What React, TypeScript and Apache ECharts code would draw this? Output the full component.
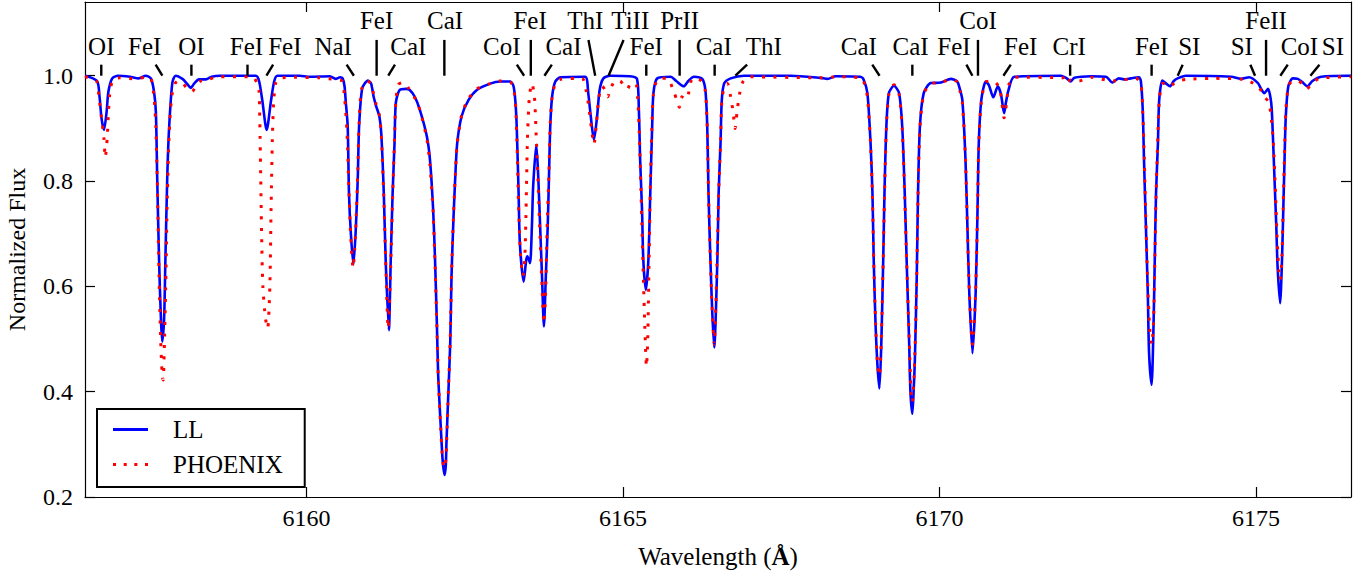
import React, { useEffect, useRef } from "react";
import * as echarts from "echarts";

const FONT = '"Liberation Serif", "DejaVu Serif", serif';

// LL model spectrum (wavelength in Å, normalized flux)
const llWave = [
  6156.50, 6156.69, 6156.73, 6156.76, 6156.80, 6156.84, 6156.87, 6156.93, 6157.02, 6157.21,
  6157.35, 6157.46, 6157.54, 6157.59, 6157.62, 6157.64, 6157.67, 6157.70, 6157.72, 6157.75,
  6157.77, 6157.80, 6157.83, 6157.88, 6157.93, 6158.04, 6158.11, 6158.17, 6158.23, 6158.30,
  6158.41, 6158.50, 6158.63, 6159.20, 6159.25, 6159.30, 6159.37, 6159.44, 6159.49, 6159.54,
  6159.89, 6160.05, 6160.37, 6160.46, 6160.53, 6160.57, 6160.60, 6160.62, 6160.65, 6160.67,
  6160.70, 6160.74, 6160.78, 6160.81, 6160.83, 6160.88, 6160.97, 6161.02, 6161.06, 6161.10,
  6161.15, 6161.18, 6161.22, 6161.25, 6161.30, 6161.33, 6161.36, 6161.39, 6161.41, 6161.47,
  6161.57, 6161.63, 6161.71, 6161.79, 6161.90, 6161.95, 6162.00, 6162.03, 6162.06, 6162.08,
  6162.12, 6162.15, 6162.18, 6162.20, 6162.21, 6162.24, 6162.27, 6162.29, 6162.32, 6162.35,
  6162.38, 6162.45, 6162.56, 6162.69, 6162.90, 6163.06, 6163.22, 6163.27, 6163.30, 6163.32,
  6163.35, 6163.37, 6163.43, 6163.47, 6163.49, 6163.53, 6163.56, 6163.58, 6163.63, 6163.66,
  6163.69, 6163.72, 6163.75, 6163.78, 6163.81, 6163.83, 6163.85, 6163.88, 6163.93, 6164.01,
  6164.40, 6164.45, 6164.49, 6164.54, 6164.59, 6164.63, 6164.69, 6164.80, 6165.11, 6165.22,
  6165.25, 6165.27, 6165.30, 6165.32, 6165.36, 6165.40, 6165.43, 6165.46, 6165.48, 6165.54,
  6165.75, 6165.84, 6165.96, 6166.03, 6166.12, 6166.25, 6166.30, 6166.33, 6166.35, 6166.38,
  6166.41, 6166.44, 6166.49, 6166.51, 6166.54, 6166.56, 6166.60, 6166.70, 6166.91, 6167.65,
  6168.12, 6168.23, 6168.36, 6168.75, 6168.80, 6168.86, 6168.91, 6168.94, 6168.96, 6168.99,
  6169.02, 6169.05, 6169.08, 6169.11, 6169.13, 6169.16, 6169.20, 6169.28, 6169.36, 6169.41,
  6169.45, 6169.48, 6169.52, 6169.54, 6169.57, 6169.59, 6169.61, 6169.64, 6169.66, 6169.69,
  6169.75, 6169.86, 6170.02, 6170.18, 6170.28, 6170.32, 6170.36, 6170.41, 6170.44, 6170.47,
  6170.52, 6170.57, 6170.60, 6170.62, 6170.66, 6170.73, 6170.78, 6170.85, 6170.92, 6170.97,
  6171.02, 6171.05, 6171.09, 6171.18, 6171.92, 6172.01, 6172.07, 6172.13, 6172.39, 6172.63,
  6172.73, 6172.83, 6172.93, 6173.02, 6173.15, 6173.18, 6173.21, 6173.23, 6173.26, 6173.29,
  6173.31, 6173.35, 6173.38, 6173.40, 6173.42, 6173.45, 6173.47, 6173.52, 6173.58, 6173.64,
  6173.70, 6173.76, 6173.89, 6174.61, 6174.76, 6174.89, 6175.03, 6175.08, 6175.13, 6175.19,
  6175.24, 6175.26, 6175.29, 6175.32, 6175.34, 6175.38, 6175.41, 6175.43, 6175.45, 6175.47,
  6175.51, 6175.58, 6175.66, 6175.73, 6175.81, 6175.89, 6176.03, 6176.50,
];
const llFlux = [
  1.000, 0.990, 0.960, 0.920, 0.897, 0.930, 0.970, 0.995, 1.000, 0.998,
  0.995, 1.000, 0.995, 0.970, 0.930, 0.810, 0.650, 0.536, 0.495, 0.540,
  0.650, 0.810, 0.904, 0.987, 1.000, 0.994, 0.985, 0.977, 0.986, 0.993,
  0.993, 0.998, 1.000, 1.000, 0.990, 0.954, 0.897, 0.954, 0.990, 1.000,
  1.000, 0.998, 0.999, 0.994, 0.997, 0.995, 0.980, 0.950, 0.904, 0.778,
  0.700, 0.641, 0.714, 0.809, 0.904, 0.976, 0.991, 0.985, 0.960, 0.942,
  0.923, 0.891, 0.778, 0.650, 0.517, 0.650, 0.778, 0.872, 0.948, 0.973,
  0.975, 0.973, 0.960, 0.935, 0.885, 0.840, 0.745, 0.650, 0.524, 0.429,
  0.334, 0.270, 0.242, 0.260, 0.302, 0.397, 0.493, 0.619, 0.726, 0.809,
  0.872, 0.923, 0.954, 0.973, 0.985, 0.989, 0.989, 0.980, 0.950, 0.904,
  0.777, 0.682, 0.609, 0.650, 0.657, 0.644, 0.714, 0.790, 0.869, 0.809,
  0.714, 0.619, 0.524, 0.619, 0.714, 0.809, 0.904, 0.961, 0.989, 0.997,
  0.998, 0.967, 0.923, 0.878, 0.923, 0.973, 0.995, 1.000, 0.999, 0.994,
  0.935, 0.840, 0.745, 0.650, 0.593, 0.650, 0.777, 0.904, 0.967, 0.995,
  0.998, 0.990, 0.980, 0.990, 0.998, 0.994, 0.973, 0.904, 0.777, 0.650,
  0.549, 0.484, 0.650, 0.777, 0.872, 0.954, 0.986, 0.995, 1.000, 1.000,
  0.996, 0.994, 0.999, 0.998, 0.993, 0.967, 0.872, 0.777, 0.650, 0.524,
  0.448, 0.406, 0.492, 0.650, 0.777, 0.904, 0.967, 0.981, 0.967, 0.904,
  0.777, 0.650, 0.492, 0.400, 0.358, 0.400, 0.460, 0.619, 0.777, 0.904,
  0.967, 0.986, 0.987, 0.994, 0.989, 0.975, 0.954, 0.840, 0.714, 0.587,
  0.473, 0.587, 0.745, 0.872, 0.954, 0.989, 0.982, 0.959, 0.980, 0.965,
  0.929, 0.950, 0.973, 0.998, 1.000, 0.995, 0.989, 0.996, 0.999, 0.998,
  0.987, 0.995, 0.993, 0.995, 0.997, 0.990, 0.935, 0.840, 0.714, 0.587,
  0.473, 0.413, 0.524, 0.650, 0.777, 0.872, 0.954, 0.991, 0.985, 0.980,
  0.990, 0.995, 1.000, 0.998, 0.994, 0.997, 0.986, 0.975, 0.967, 0.975,
  0.948, 0.904, 0.809, 0.714, 0.638, 0.568, 0.650, 0.745, 0.840, 0.923,
  0.980, 0.995, 0.994, 0.988, 0.980, 0.990, 0.998, 1.000,
];

// PHOENIX model spectrum
const phWave = [
  6156.50, 6156.68, 6156.72, 6156.76, 6156.80, 6156.82, 6156.85, 6156.87, 6156.90, 6156.95,
  6157.05, 6157.30, 6157.45, 6157.54, 6157.59, 6157.62, 6157.645, 6157.67, 6157.695, 6157.72,
  6157.735, 6157.75, 6157.775, 6157.80, 6157.83, 6157.87, 6157.92, 6157.98, 6158.05, 6158.12,
  6158.19, 6158.26, 6158.33, 6158.45, 6158.60, 6159.15, 6159.22, 6159.25, 6159.27, 6159.29,
  6159.31, 6159.35, 6159.385, 6159.42, 6159.44, 6159.46, 6159.48, 6159.51, 6159.56, 6159.80,
  6160.20, 6160.45, 6160.56, 6160.60, 6160.64, 6160.67, 6160.70, 6160.735, 6160.76, 6160.78,
  6160.81, 6160.83, 6160.87, 6160.96, 6161.02, 6161.06, 6161.10, 6161.15, 6161.18, 6161.22,
  6161.25, 6161.29, 6161.33, 6161.36, 6161.39, 6161.41, 6161.45, 6161.52, 6161.60, 6161.70,
  6161.79, 6161.90, 6161.95, 6162.00, 6162.03, 6162.06, 6162.08, 6162.12, 6162.15, 6162.175,
  6162.20, 6162.215, 6162.24, 6162.27, 6162.29, 6162.32, 6162.35, 6162.38, 6162.45, 6162.55,
  6162.69, 6162.90, 6163.06, 6163.22, 6163.27, 6163.30, 6163.33, 6163.35, 6163.38, 6163.42,
  6163.45, 6163.47, 6163.49, 6163.52, 6163.56, 6163.60, 6163.63, 6163.66, 6163.69, 6163.72,
  6163.75, 6163.78, 6163.80, 6163.83, 6163.85, 6163.88, 6163.93, 6164.00, 6164.35, 6164.42,
  6164.46, 6164.50, 6164.54, 6164.58, 6164.62, 6164.67, 6164.73, 6164.76, 6164.80, 6164.88,
  6164.95, 6165.02, 6165.07, 6165.12, 6165.20, 6165.23, 6165.26, 6165.29, 6165.32, 6165.345,
  6165.37, 6165.39, 6165.41, 6165.43, 6165.455, 6165.48, 6165.53, 6165.60, 6165.70, 6165.80,
  6165.86, 6165.89, 6165.93, 6165.98, 6166.03, 6166.10, 6166.24, 6166.30, 6166.33, 6166.35,
  6166.38, 6166.41, 6166.44, 6166.485, 6166.51, 6166.54, 6166.56, 6166.60, 6166.65, 6166.70,
  6166.74, 6166.77, 6166.80, 6166.84, 6166.90, 6167.00, 6168.10, 6168.40, 6168.75, 6168.80,
  6168.86, 6168.91, 6168.94, 6168.96, 6168.99, 6169.02, 6169.05, 6169.08, 6169.11, 6169.13,
  6169.16, 6169.20, 6169.28, 6169.36, 6169.41, 6169.45, 6169.48, 6169.52, 6169.55, 6169.57,
  6169.59, 6169.61, 6169.64, 6169.66, 6169.69, 6169.75, 6169.86, 6170.02, 6170.18, 6170.28,
  6170.32, 6170.36, 6170.41, 6170.44, 6170.47, 6170.52, 6170.57, 6170.60, 6170.62, 6170.66,
  6170.73, 6170.85, 6170.95, 6171.02, 6171.06, 6171.10, 6171.18, 6171.95, 6172.00, 6172.07,
  6172.20, 6172.40, 6172.73, 6173.10, 6173.18, 6173.21, 6173.235, 6173.26, 6173.29, 6173.32,
  6173.35, 6173.38, 6173.40, 6173.42, 6173.445, 6173.47, 6173.52, 6173.58, 6173.64, 6173.70,
  6173.76, 6173.90, 6174.30, 6174.80, 6175.03, 6175.13, 6175.20, 6175.24, 6175.27, 6175.30,
  6175.33, 6175.36, 6175.38, 6175.41, 6175.43, 6175.45, 6175.47, 6175.51, 6175.58, 6175.66,
  6175.73, 6175.80, 6175.88, 6176.00, 6176.50,
];
const phFlux = [
  0.998, 0.990, 0.960, 0.920, 0.880, 0.845, 0.880, 0.930, 0.975, 0.993,
  0.996, 0.994, 0.997, 0.995, 0.960, 0.900, 0.780, 0.620, 0.500, 0.430,
  0.422, 0.470, 0.600, 0.770, 0.890, 0.960, 0.985, 0.990, 0.985, 0.975,
  0.970, 0.982, 0.990, 0.993, 0.998, 0.998, 0.985, 0.970, 0.850, 0.700,
  0.600, 0.540, 0.520, 0.600, 0.750, 0.880, 0.950, 0.985, 0.995, 0.997,
  0.996, 0.993, 0.990, 0.960, 0.890, 0.780, 0.690, 0.635, 0.670, 0.720,
  0.820, 0.910, 0.975, 0.990, 0.984, 0.965, 0.945, 0.925, 0.890, 0.770,
  0.650, 0.520, 0.640, 0.770, 0.880, 0.950, 0.983, 0.987, 0.978, 0.960,
  0.935, 0.880, 0.830, 0.740, 0.640, 0.520, 0.430, 0.330, 0.270, 0.255,
  0.270, 0.310, 0.400, 0.500, 0.620, 0.730, 0.810, 0.870, 0.925, 0.955,
  0.975, 0.985, 0.990, 0.988, 0.975, 0.950, 0.850, 0.750, 0.660, 0.620,
  0.660, 0.760, 0.880, 0.960, 0.985, 0.960, 0.880, 0.790, 0.690, 0.600,
  0.530, 0.600, 0.710, 0.820, 0.910, 0.960, 0.985, 0.993, 0.995, 0.970,
  0.940, 0.900, 0.870, 0.910, 0.960, 0.980, 0.970, 0.960, 0.975, 0.990,
  0.990, 0.980, 0.975, 0.985, 0.985, 0.960, 0.880, 0.750, 0.620, 0.520,
  0.448, 0.500, 0.640, 0.780, 0.900, 0.965, 0.990, 0.995, 0.995, 0.970,
  0.950, 0.940, 0.960, 0.955, 0.965, 0.995, 0.990, 0.970, 0.900, 0.775,
  0.650, 0.550, 0.490, 0.650, 0.775, 0.870, 0.950, 0.980, 0.985, 0.960,
  0.930, 0.900, 0.930, 0.965, 0.990, 0.998, 0.996, 0.998, 0.996, 0.990,
  0.960, 0.870, 0.770, 0.650, 0.530, 0.450, 0.430, 0.500, 0.650, 0.770,
  0.900, 0.965, 0.983, 0.965, 0.900, 0.770, 0.650, 0.500, 0.400, 0.380,
  0.410, 0.470, 0.620, 0.770, 0.900, 0.965, 0.985, 0.987, 0.993, 0.988,
  0.972, 0.950, 0.840, 0.710, 0.590, 0.490, 0.590, 0.745, 0.870, 0.950,
  0.988, 0.990, 0.975, 0.920, 0.950, 0.985, 0.997, 0.996, 0.985, 0.992,
  0.990, 0.997, 0.990, 0.995, 0.985, 0.930, 0.840, 0.720, 0.600, 0.520,
  0.490, 0.530, 0.640, 0.770, 0.870, 0.950, 0.985, 0.985, 0.980, 0.985,
  0.990, 0.993, 0.995, 0.993, 0.980, 0.960, 0.950, 0.920, 0.880, 0.800,
  0.700, 0.630, 0.612, 0.660, 0.760, 0.850, 0.930, 0.980, 0.990, 0.990,
  0.985, 0.975, 0.985, 0.995, 0.998,
];

// Line identifications
const lineNames = [
  "OI", "FeI", "OI", "FeI", "FeI", "NaI", "FeI", "CaI", "CaI", "CoI",
  "FeI", "CaI", "ThI", "TiII", "FeI", "PrII", "CaI", "ThI", "CaI", "CaI",
  "FeI", "CoI", "FeI", "CrI", "FeI", "SI", "SI", "FeII", "CoI", "SI",
];
// wavelength where each marker meets the continuum
const lineWave = [
  6156.757, 6157.722, 6158.181, 6159.067, 6159.367, 6160.748, 6161.107, 6161.291, 6162.177, 6163.437,
  6163.543, 6163.758, 6164.560, 6164.771, 6165.367, 6165.894, 6166.447, 6166.775, 6169.052, 6169.570,
  6170.519, 6170.607, 6171.009, 6172.063, 6173.350, 6173.762, 6174.984, 6175.158, 6175.384, 6175.859,
];
// wavelength of the upper end of each marker
const markerTopWave = [
  6156.757, 6157.616, 6158.181, 6159.067, 6159.472, 6160.633, 6161.107, 6161.397, 6162.177, 6163.322,
  6163.543, 6163.875, 6164.454, 6165.008, 6165.367, 6165.894, 6166.447, 6166.960, 6168.937, 6169.570,
  6170.424, 6170.607, 6171.125, 6172.063, 6173.350, 6173.841, 6174.910, 6175.158, 6175.501, 6176.001,
];
// wavelength at which each label is centred
const labelWave = [
  6156.757, 6157.442, 6158.181, 6159.051, 6159.657, 6160.421, 6161.107, 6161.607, 6162.188, 6163.084,
  6163.532, 6164.059, 6164.402, 6165.114, 6165.367, 6165.894, 6166.432, 6167.223, 6168.725, 6169.543,
  6170.228, 6170.607, 6171.283, 6172.047, 6173.350, 6173.945, 6174.774, 6175.158, 6175.685, 6176.213,
];
// 0 = lower label row (short marker), 1 = upper label row (long marker)
const labelRow = [
  0, 0, 0, 0, 0, 0, 1, 0, 1, 0,
  1, 0, 1, 1, 0, 1, 0, 0, 0, 0,
  0, 1, 0, 0, 0, 0, 0, 1, 0, 0,
];

const xTicks = [6160, 6165, 6170, 6175];
const yTicks = [0.2, 0.4, 0.6, 0.8, 1.0];

const X_MIN = 6156.5;
const X_MAX = 6176.5;
const Y_MIN = 0.2;
const Y_MAX = 1.14;

const DOTTED_ICON = "path://M0,0h3v3h-3z M10.7,0h3v3h-3z M21.3,0h3v3h-3z M32,0h3v3h-3z";

export default function App() {
  const ref = useRef<HTMLDivElement>(null);

  useEffect(() => {
    if (!ref.current) return;
    const chart = echarts.init(ref.current, undefined, { renderer: "svg" });

    const llData = llWave.map((w, i) => [w, llFlux[i]]);
    const phData = phWave.map((w, i) => [w, phFlux[i]]);
    const idData = lineWave.map((w, i) => [w, 1.0, i]);

    const axisLineStyle = { color: "#000", width: 1.2 };
    const tickStyle = { color: "#000", width: 1.2 };

    const option: any = {
      animation: false,
      backgroundColor: "#fff",
      grid: {
        left: 85,
        right: 19,
        top: 2,
        bottom: 81,
        containLabel: false,
        outerBoundsMode: "none",
      },
      legend: {
        data: [
          { name: "LL", icon: "rect" },
          { name: "PHOENIX", icon: DOTTED_ICON },
        ],
        orient: "vertical",
        left: 97,
        top: 409,
        backgroundColor: "#fff",
        borderColor: "#000",
        borderWidth: 2,
        borderRadius: 0,
        padding: [8, 22, 10, 16],
        itemWidth: 35,
        itemHeight: 3,
        itemGap: 10,
        selectedMode: false,
        textStyle: {
          fontFamily: FONT,
          fontSize: 25,
          color: "#000",
          padding: [0, 0, 0, 20],
        },
      },
      xAxis: [
        {
          type: "value",
          min: X_MIN,
          max: X_MAX,
          splitNumber: 5,
          position: "bottom",
          name: "Wavelength ({b|Å})",
          nameLocation: "middle",
          nameGap: 47,
          nameTextStyle: {
            fontFamily: FONT,
            fontSize: 25,
            color: "#000",
            rich: { b: { fontFamily: FONT, fontSize: 25, fontWeight: "bold", color: "#000" } },
          },
          axisLine: { show: true, onZero: false, lineStyle: axisLineStyle },
          axisTick: { show: true, inside: true, length: 10, lineStyle: tickStyle, customValues: xTicks },
          axisLabel: {
            show: true,
            margin: 9,
            fontFamily: FONT,
            fontSize: 24,
            color: "#000",
            customValues: xTicks,
            formatter: (v: number) => String(Math.round(v)),
          },
          splitLine: { show: false },
        },
        {
          type: "value",
          min: X_MIN,
          max: X_MAX,
          splitNumber: 5,
          position: "top",
          axisLine: { show: true, onZero: false, lineStyle: axisLineStyle },
          axisTick: { show: true, inside: true, length: 10, lineStyle: tickStyle, customValues: xTicks },
          axisLabel: { show: false },
          splitLine: { show: false },
        },
      ],
      yAxis: [
        {
          type: "value",
          min: Y_MIN,
          max: Y_MAX,
          position: "left",
          name: "Normalized Flux",
          nameLocation: "middle",
          nameGap: 56,
          nameTextStyle: { fontFamily: FONT, fontSize: 24, color: "#000" },
          axisLine: { show: true, onZero: false, lineStyle: axisLineStyle },
          axisTick: { show: true, inside: true, length: 10, lineStyle: tickStyle, customValues: yTicks },
          axisLabel: {
            show: true,
            margin: 12,
            fontFamily: FONT,
            fontSize: 24,
            color: "#000",
            customValues: yTicks,
            formatter: (v: number) => v.toFixed(1),
          },
          splitLine: { show: false },
        },
        {
          type: "value",
          min: Y_MIN,
          max: Y_MAX,
          position: "right",
          axisLine: { show: true, onZero: false, lineStyle: axisLineStyle },
          axisTick: { show: true, inside: true, length: 10, lineStyle: tickStyle, customValues: yTicks },
          axisLabel: { show: false },
          splitLine: { show: false },
        },
      ],
      series: [
        {
          name: "LL",
          type: "line",
          xAxisIndex: 0,
          yAxisIndex: 0,
          data: llData,
          symbol: "none",
          showSymbol: false,
          smooth: 0.25,
          lineStyle: { color: "#0000ff", width: 2.6 },
          itemStyle: { color: "#0000ff" },
          z: 2,
        },
        {
          name: "PHOENIX",
          type: "line",
          xAxisIndex: 0,
          yAxisIndex: 0,
          data: phData,
          symbol: "none",
          showSymbol: false,
          smooth: 0.25,
          lineStyle: { color: "#ff0000", width: 3, type: [3, 8.5], cap: "butt" },
          itemStyle: { color: "#ff0000" },
          z: 3,
        },
        {
          name: "lines",
          type: "custom",
          xAxisIndex: 0,
          yAxisIndex: 0,
          clip: false,
          silent: true,
          z: 4,
          data: idData,
          encode: { x: 0, y: 1 },
          renderItem: (params: any, api: any) => {
            const i = params.dataIndex;
            const row = labelRow[i];
            const bottom = api.coord([lineWave[i], 1.0]);
            const top = api.coord([markerTopWave[i], row ? 1.068 : 1.021]);
            const txt = api.coord([labelWave[i], row ? 1.104 : 1.055]);
            return {
              type: "group",
              children: [
                {
                  type: "line",
                  shape: { x1: top[0], y1: top[1], x2: bottom[0], y2: bottom[1] },
                  style: { stroke: "#000", lineWidth: 2.4 },
                },
                {
                  type: "text",
                  x: txt[0],
                  y: txt[1],
                  style: {
                    text: lineNames[i],
                    fontFamily: FONT,
                    fontSize: 25,
                    fill: "#000",
                    align: "center",
                    verticalAlign: "middle",
                  },
                },
              ],
            };
          },
        },
      ],
    };

    chart.setOption(option);
    return () => {
      chart.dispose();
    };
  }, []);

  return (
    <div
      ref={ref}
      style={{ position: "fixed", left: 0, top: 0, width: "1370px", height: "578px", background: "#fff" }}
    />
  );
}
